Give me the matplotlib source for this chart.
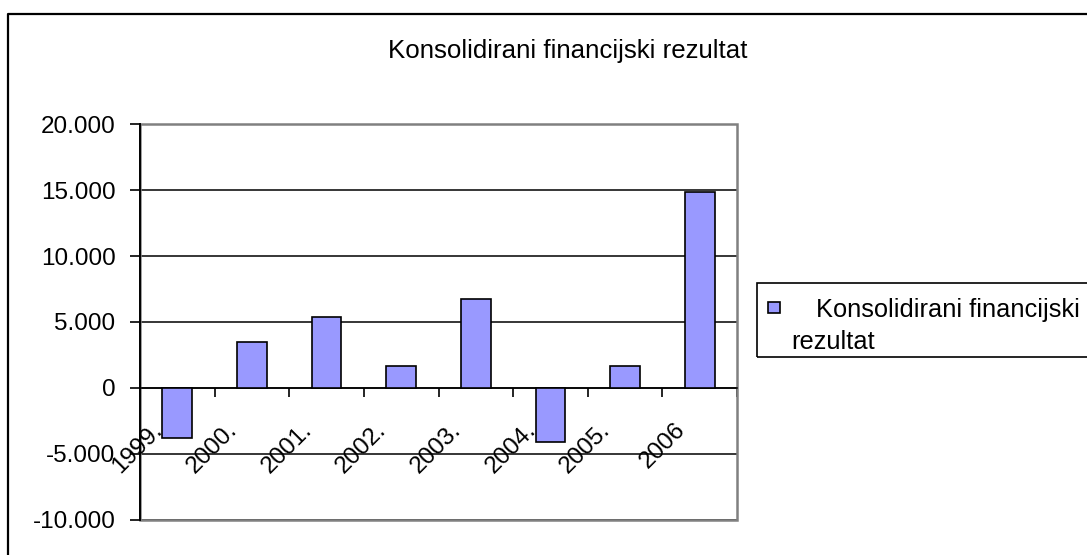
import matplotlib
matplotlib.use("Agg")
import matplotlib.pyplot as plt
from matplotlib.patches import Rectangle
from matplotlib.lines import Line2D
from matplotlib.transforms import ScaledTranslation

plt.rcParams['font.family'] = ['Liberation Sans', 'DejaVu Sans']

# data
years = ['1999.', '2000.', '2001.', '2002.', '2003.', '2004.', '2005.', '2006']
values = [-3840, 3445, 5387, 1624, 6753, -4143, 1624, 14826]
series_name = 'Konsolidirani financijski rezultat'
yticks = [-10000, -5000, 0, 5000, 10000, 15000, 20000]
ytick_labels = ['-10.000', '-5.000', '0', '5.000', '10.000', '15.000', '20.000']

W, H = 1087, 555
fig = plt.figure(figsize=(W / 100, H / 100), dpi=100)


def fx(px):
    return px / W


def fy(py):
    return 1 - py / H


# plot area in pixels: left 140, right 737, top 124.3, bottom 519.5
ax = fig.add_axes([fx(140), fy(519.5), fx(737) - fx(140), fy(124.3) - fy(519.5)])

x = list(range(len(years)))
ax.bar(x, values, width=0.4, color='#9999FF', edgecolor='black', linewidth=1.2, zorder=3)

ax.set_xlim(-0.5, len(years) - 0.5)
ax.set_ylim(-10000, 20000)

ax.set_yticks(yticks)
ax.set_yticklabels(ytick_labels, fontsize=17.5)
ax.tick_params(axis='y', direction='out', length=7.2, width=1.2, pad=10.5, color='black')

# category axis sits on zero, ticks between categories
ax.spines['bottom'].set_position(('data', 0))
ax.set_xticks([i - 0.5 for i in range(len(years) + 1)])
ax.set_xticklabels([])
ax.tick_params(axis='x', direction='out', length=6.5, width=1.2, color='black')

off = ScaledTranslation(-14 / 100, -43 / 100, fig.dpi_scale_trans)
for i, lab in enumerate(years):
    ax.text(i, 0, lab, rotation=45, ha='right', va='baseline', rotation_mode='anchor',
            fontsize=17.5, transform=ax.transData + off)

ax.grid(axis='y', color='black', linewidth=1.1)
ax.set_axisbelow(True)

for s in ['top', 'right']:
    ax.spines[s].set_visible(False)
ax.spines['left'].set_linewidth(1.4)
ax.spines['bottom'].set_linewidth(1.1)
ax.add_patch(Rectangle((0, 0), 1, 1, transform=ax.transAxes, fill=False,
                       edgecolor='#808080', linewidth=1.8, clip_on=False, zorder=2))

# title
fig.text(fx(567.5), fy(58.3), series_name, fontsize=18.6, ha='center', va='baseline')

# legend box
fig.patches.append(Rectangle((fx(757), fy(357)), 1.0, fy(283) - fy(357),
                             transform=fig.transFigure, fill=False,
                             edgecolor='black', linewidth=1.2))
fig.patches.append(Rectangle((fx(768), fy(313)), fx(780) - fx(768), fy(302) - fy(313),
                             transform=fig.transFigure, facecolor='#9999FF',
                             edgecolor='black', linewidth=1.2))
fig.text(fx(816), fy(316.5), 'Konsolidirani financijski', fontsize=18.3, ha='left', va='baseline')
fig.text(fx(791.5), fy(349), 'rezultat', fontsize=18.3, ha='left', va='baseline')

# outer chart border (left and top only visible)
fig.lines.append(Line2D([fx(7.8), fx(7.8), 1.01], [-0.01, fy(13.7), fy(13.7)],
                        transform=fig.transFigure, color='black', linewidth=1.6))

fig.savefig('out.png', dpi=100)
